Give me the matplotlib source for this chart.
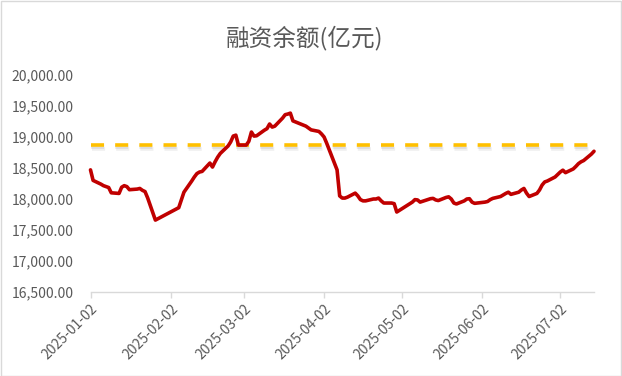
import pandas as pd
import matplotlib
matplotlib.use("Agg")
import matplotlib.pyplot as plt
import matplotlib.dates as mdates
import matplotlib.patheffects as pe
from matplotlib.patches import Rectangle
from matplotlib.ticker import FuncFormatter

plt.rcParams["font.family"] = ["Noto Sans CJK SC", "DejaVu Sans"]
plt.rcParams["lines.scale_dashes"] = False

TITLE = "融资余额(亿元)"
REF_LEVEL = 18870  # dashed reference line

DATES = [
    "2025-01-02", "2025-01-03", "2025-01-06", "2025-01-07", "2025-01-08", "2025-01-09",
    "2025-01-10", "2025-01-13", "2025-01-14", "2025-01-15", "2025-01-16", "2025-01-17",
    "2025-01-20", "2025-01-21", "2025-01-22", "2025-01-23", "2025-01-24", "2025-01-27",
    "2025-02-05", "2025-02-06", "2025-02-07", "2025-02-10", "2025-02-11", "2025-02-12",
    "2025-02-13", "2025-02-14", "2025-02-17", "2025-02-18", "2025-02-19", "2025-02-20",
    "2025-02-21", "2025-02-24", "2025-02-25", "2025-02-26", "2025-02-27", "2025-02-28",
    "2025-03-03", "2025-03-04", "2025-03-05", "2025-03-06", "2025-03-07", "2025-03-10",
    "2025-03-11", "2025-03-12", "2025-03-13", "2025-03-14", "2025-03-17", "2025-03-18",
    "2025-03-19", "2025-03-20", "2025-03-21", "2025-03-24", "2025-03-25", "2025-03-26",
    "2025-03-27", "2025-03-28", "2025-03-31", "2025-04-01", "2025-04-02", "2025-04-03",
    "2025-04-07", "2025-04-08", "2025-04-09", "2025-04-10", "2025-04-11", "2025-04-14",
    "2025-04-15", "2025-04-16", "2025-04-17", "2025-04-18", "2025-04-21", "2025-04-22",
    "2025-04-23", "2025-04-24", "2025-04-25", "2025-04-28", "2025-04-29", "2025-04-30",
    "2025-05-06", "2025-05-07", "2025-05-08", "2025-05-09", "2025-05-12", "2025-05-13",
    "2025-05-14", "2025-05-15", "2025-05-16", "2025-05-19", "2025-05-20", "2025-05-21",
    "2025-05-22", "2025-05-23", "2025-05-26", "2025-05-27", "2025-05-28", "2025-05-29",
    "2025-05-30", "2025-06-03", "2025-06-04", "2025-06-05", "2025-06-06", "2025-06-09",
    "2025-06-10", "2025-06-11", "2025-06-12", "2025-06-13", "2025-06-16", "2025-06-17",
    "2025-06-18", "2025-06-19", "2025-06-20", "2025-06-23", "2025-06-24", "2025-06-25",
    "2025-06-26", "2025-06-27", "2025-06-30", "2025-07-01", "2025-07-02", "2025-07-03",
    "2025-07-04", "2025-07-07", "2025-07-08", "2025-07-09", "2025-07-10", "2025-07-11",
    "2025-07-14", "2025-07-15",
]

BALANCE = [
    18470, 18300, 18240, 18215, 18200, 18185,
    18100, 18090, 18190, 18215, 18200, 18150,
    18160, 18170, 18140, 18120, 18020, 17660,
    17860, 17985, 18110, 18290, 18355, 18410,
    18435, 18445, 18580, 18515, 18600, 18675,
    18735, 18855, 18920, 19015, 19030, 18870,
    18870, 18930, 19080, 19015, 19020, 19110,
    19135, 19210, 19160, 19175, 19305, 19360,
    19370, 19385, 19260, 19210, 19195, 19175,
    19145, 19115, 19090, 19050, 19000, 18900,
    18470, 18050, 18015, 18015, 18030, 18095,
    18050, 17990, 17970, 17970, 18000, 18000,
    18015, 17970, 17935, 17935, 17925, 17790,
    17950, 17990, 17985, 17950, 17990, 18005,
    18010, 17985, 17975, 18025, 18035, 18000,
    17935, 17920, 17970, 18000, 18005, 17950,
    17930, 17950, 17960, 17990, 18010, 18040,
    18065, 18090, 18110, 18075, 18110, 18145,
    18170, 18095, 18040, 18090, 18145, 18225,
    18275, 18290, 18355, 18395, 18435, 18465,
    18425, 18485, 18525, 18570, 18600, 18620,
    18725, 18770,
]

TICK_DATES = ["2025-01-02", "2025-02-02", "2025-03-02", "2025-04-02",
              "2025-05-02", "2025-06-02", "2025-07-02"]
Y_TICKS = [16500, 17000, 17500, 18000, 18500, 19000, 19500, 20000]

GREY = "#595959"


def main():
    dates = pd.to_datetime(DATES)
    ref = [REF_LEVEL] * len(dates)

    fig = plt.figure(figsize=(6.22, 3.76), dpi=100)
    ax = fig.add_axes([0.1455, 0.2234, 0.955 - 0.1455, 0.8005 - 0.2234])

    ax.plot(dates, BALANCE, color="#C00000", lw=2.6, solid_joinstyle="round",
            solid_capstyle="round", zorder=3, clip_on=False)
    # soft shadow under the dashes, faked with two faint offset copies
    ax.plot(dates, ref, color="#FFC000", lw=2.6, dashes=(9.4, 8.0), zorder=2,
            path_effects=[pe.SimpleLineShadow(offset=(0.6, -1.6), shadow_color="#7f7f7f",
                                              alpha=0.18),
                          pe.SimpleLineShadow(offset=(1.0, -2.6), shadow_color="#7f7f7f",
                                              alpha=0.12),
                          pe.Normal()])

    ax.set_xlim(dates[0], dates[-1])
    ax.set_ylim(Y_TICKS[0], Y_TICKS[-1])

    ax.set_yticks(Y_TICKS)
    ax.yaxis.set_major_formatter(FuncFormatter(lambda v, _: f"{v:,.2f}"))
    ax.set_xticks(pd.to_datetime(TICK_DATES))
    ax.xaxis.set_major_formatter(mdates.DateFormatter("%Y-%m-%d"))

    for s in ["top", "right", "left"]:
        ax.spines[s].set_visible(False)
    ax.spines["bottom"].set_color("#D9D9D9")
    ax.spines["bottom"].set_linewidth(1.0)

    ax.tick_params(axis="y", length=0, pad=12, labelsize=10, labelcolor=GREY)
    ax.tick_params(axis="x", length=4, color="#D9D9D9", width=1.0, pad=3,
                   labelsize=10, labelcolor=GREY)
    for lbl in ax.get_xticklabels():
        lbl.set_rotation(45)
        lbl.set_ha("right")
        lbl.set_rotation_mode("anchor")

    fig.text(0.49, 0.90, TITLE, ha="center", va="center", fontsize=17, color=GREY)

    fig.patches.append(Rectangle((0.001, 0.001), 0.997, 0.997, transform=fig.transFigure,
                                 fill=False, edgecolor="#D9D9D9", lw=1.0))

    fig.savefig("out.png", dpi=100)
    plt.close(fig)


if __name__ == "__main__":
    main()
